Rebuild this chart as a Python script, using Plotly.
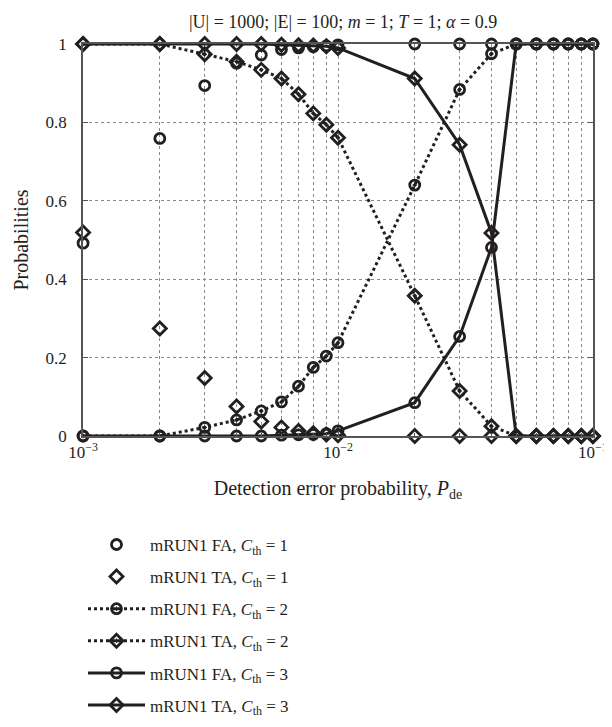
import plotly.graph_objects as go

x_vals = [0.001, 0.002, 0.003, 0.004, 0.005, 0.006, 0.007, 0.008, 0.009, 0.01,
          0.02, 0.03, 0.04, 0.05, 0.06, 0.07, 0.08, 0.09, 0.1]

fa_c1 = [0.492, 0.759, 0.894, 0.951, 0.972, 0.986, 0.990, 0.993, 0.995, 0.998,
         1, 1, 1, 1, 1, 1, 1, 1, 1]
ta_c1 = [0.519, 0.274, 0.148, 0.075, 0.037, 0.022, 0.013, 0.007, 0.004, 0.002,
         0, 0, 0, 0, 0, 0, 0, 0, 0]
fa_c2 = [0, 0, 0.022, 0.041, 0.064, 0.087, 0.127, 0.175, 0.204, 0.238,
         0.640, 0.884, 0.975, 1, 1, 1, 1, 1, 1]
ta_c2 = [1, 1, 0.974, 0.955, 0.934, 0.912, 0.872, 0.823, 0.794, 0.761,
         0.358, 0.115, 0.025, 0, 0, 0, 0, 0, 0]
fa_c3 = [0, 0, 0, 0, 0, 0.002, 0.003, 0.004, 0.006, 0.013,
         0.085, 0.254, 0.481, 1, 1, 1, 1, 1, 1]
ta_c3 = [1, 1, 1, 1, 1, 0.998, 0.997, 0.996, 0.994, 0.99,
         0.912, 0.743, 0.518, 0, 0, 0, 0, 0, 0]

names = ["mRUN1 FA, <i>C</i><sub>th</sub> = 1", "mRUN1 TA, <i>C</i><sub>th</sub> = 1",
         "mRUN1 FA, <i>C</i><sub>th</sub> = 2", "mRUN1 TA, <i>C</i><sub>th</sub> = 2",
         "mRUN1 FA, <i>C</i><sub>th</sub> = 3", "mRUN1 TA, <i>C</i><sub>th</sub> = 3"]

x_ticks = [0.001, 0.01, 0.1]
x_ticktext = ["10<sup>−3</sup>", "10<sup>−2</sup>", "10<sup>−1</sup>"]
x_minor = [0.002, 0.003, 0.004, 0.005, 0.006, 0.007, 0.008, 0.009,
           0.02, 0.03, 0.04, 0.05, 0.06, 0.07, 0.08, 0.09]
y_ticks = [0, 0.2, 0.4, 0.6, 0.8, 1]
y_ticktext = ["0", "0.2", "0.4", "0.6", "0.8", "1"]

C = "#231f20"
FONT = "Liberation Serif"

series = [
    (fa_c1, "markers", "circle-open", None),
    (ta_c1, "markers", "diamond-open", None),
    (fa_c2, "lines+markers", "circle-open-dot", "dot"),
    (ta_c2, "lines+markers", "diamond-open-dot", "dot"),
    (fa_c3, "lines+markers", "circle-open", "solid"),
    (ta_c3, "lines+markers", "diamond-open", "solid"),
]

fig = go.Figure()
for i, (yv, mode, sym, dash) in enumerate(series):
    kw = {}
    if dash:
        kw["line"] = dict(color=C, width=3, dash=dash)
    fig.add_trace(go.Scatter(
        x=x_vals, y=yv, mode=mode, name=names[i], legendgroup=str(i),
        marker=dict(symbol=sym, size=10, color=C, line=dict(color=C, width=2.8)),
        cliponaxis=False, **kw))

fig.update_layout(
    width=612, height=727,
    margin=dict(l=73, r=14, t=36, b=284),
    plot_bgcolor="white", paper_bgcolor="white",
    font=dict(family=FONT, size=17, color=C),
    title=dict(text="|U| = 1000; |E| = 100; <i>m</i> = 1; <i>T</i> = 1; <i>α</i> = 0.9",
               x=0.5475, xanchor="center", y=1 - 14 / 727, yanchor="middle",
               font=dict(size=18)),
    showlegend=True,
    legend=dict(x=0.0, y=-0.232, xanchor="left", yanchor="top",
                traceorder="grouped", tracegroupgap=7, itemwidth=57,
                font=dict(size=17), bgcolor="rgba(0,0,0,0)"),
    xaxis=dict(type="log", range=[-3.0003, -0.9997], tickvals=x_ticks, ticktext=x_ticktext,
               ticklabeloverflow="allow",
               showline=True, linecolor="#555", linewidth=1.5, mirror=True,
               ticks="inside", ticklen=5, tickcolor="#555",
               showgrid=True, gridcolor="#888", griddash="dot", gridwidth=1,
               minor=dict(tickvals=x_minor, showgrid=True, gridcolor="#888",
                          griddash="dot", ticks="inside", ticklen=3,
                          tickcolor="#555"),
               zeroline=False,
               title=dict(text="Detection error probability, <i>P</i><sub>de</sub>",
                          standoff=20)),
    yaxis=dict(range=[0, 1], tickvals=y_ticks, ticktext=y_ticktext,
               showline=True, linecolor="#555", linewidth=1.5, mirror="ticks",
               ticks="inside", ticklen=5, tickcolor="#555",
               ticklabelstandoff=11,
               showgrid=True, gridcolor="#888", griddash="dot", gridwidth=1,
               zeroline=False,
               title=dict(text="Probabilities", standoff=12)),
)

fig.write_html("out.html")
